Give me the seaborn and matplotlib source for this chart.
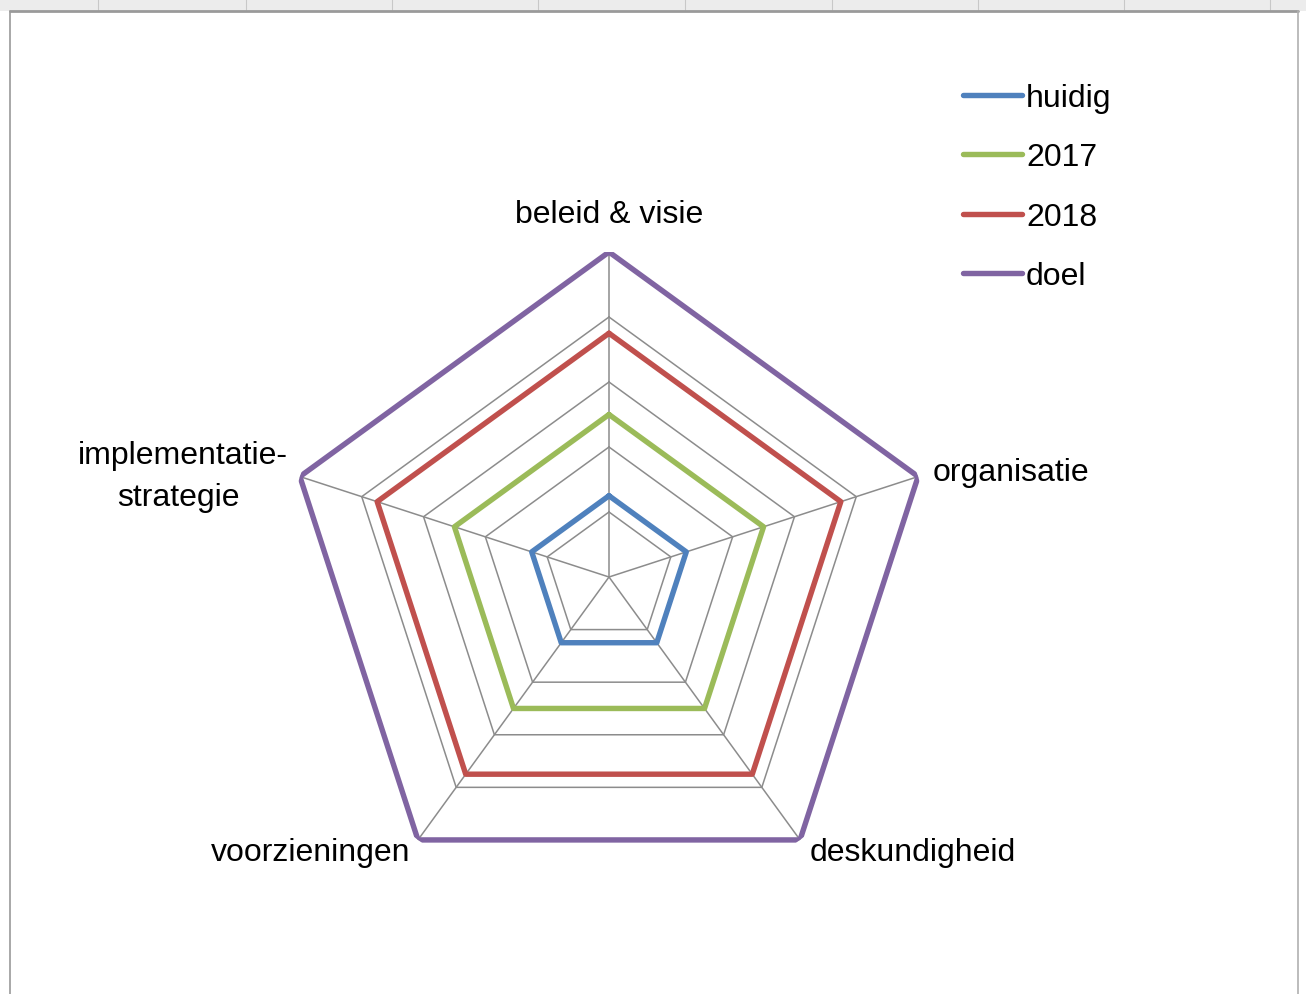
import numpy as np
import pandas as pd
import matplotlib
matplotlib.use("Agg")
import matplotlib.pyplot as plt
import seaborn as sns
from matplotlib.patches import Rectangle
from matplotlib.lines import Line2D

# axes of the radar, clockwise from the top
categories = ['beleid & visie', 'organisatie', 'deskundigheid', 'voorzieningen', 'implementatie-\nstrategie']
series = ['huidig', '2017', '2018', 'doel']
huidig = [0.25, 0.25, 0.25, 0.25, 0.25]
v2017 = [0.50, 0.50, 0.50, 0.50, 0.50]
v2018 = [0.75, 0.75, 0.75, 0.75, 0.75]
doel = [1.00, 1.00, 1.00, 1.00, 1.00]
ring_levels = [0.2, 0.4, 0.6, 0.8, 1.0]

palette = {'huidig': '#4F81BD', '2017': '#9BBB59', '2018': '#C0504D', 'doel': '#8064A2'}

# long form table, polygon closed by repeating the first category
n = len(categories)
theta = np.linspace(0, 2 * np.pi, n, endpoint=False)
rows = []
for name, vals in zip(series, [huidig, v2017, v2018, doel]):
    for i in range(n + 1):
        rows.append({'theta': theta[i % n] + (2 * np.pi if i == n else 0), 'value': vals[i % n], 'series': name})
df = pd.DataFrame(rows)

sns.set_theme(style='white')
plt.rcParams['font.family'] = ['Liberation Sans', 'DejaVu Sans']
plt.rcParams['text.color'] = 'black'

W, H = 1306, 995
fig = plt.figure(figsize=(W / 100, H / 100), dpi=100)

# spreadsheet chrome around the chart area
fig.patches.append(Rectangle((0, 1 - 12 / H), 1, 12 / H, transform=fig.transFigure, facecolor='#ececec', edgecolor='none'))
for xc in [98, 246, 392, 538, 685, 832, 978, 1124, 1270]:
    fig.lines.append(Line2D([xc / W, xc / W], [1 - 12 / H, 1], transform=fig.transFigure, color='#c8c8c8', lw=0.8))
fig.lines.append(Line2D([10 / W, 1298 / W], [1 - 12 / H, 1 - 12 / H], transform=fig.transFigure, color='#9a9a9a', lw=2))
fig.lines.append(Line2D([10 / W, 10 / W], [0, 1 - 12 / H], transform=fig.transFigure, color='#9a9a9a', lw=1.2))
fig.lines.append(Line2D([1298 / W, 1298 / W], [0, 1 - 12 / H], transform=fig.transFigure, color='#b0b0b0', lw=1.2))

cx, cy, R = 609, 578, 325
ax = fig.add_axes([(cx - R) / W, (H - cy - R) / H, 2 * R / W, 2 * R / H], projection='polar')
ax.set_theta_offset(np.pi / 2)
ax.set_theta_direction(-1)
ax.grid(False)
ax.spines['polar'].set_visible(False)
ax.patch.set_alpha(0)

# polygonal grid
closed = np.append(theta, theta[0] + 2 * np.pi)
for r in ring_levels:
    ax.plot(closed, [r] * (n + 1), color='#8c8c8c', lw=1.1, zorder=1)
for t in theta:
    ax.plot([t, t], [0, 1], color='#8c8c8c', lw=1.1, zorder=1)

sns.lineplot(data=df, x='theta', y='value', hue='series', palette=palette,
             estimator=None, sort=False, lw=3.9, ax=ax, zorder=3, legend=False)
ax.set_xlabel('')
ax.set_ylabel('')
ax.set_xticks([])
ax.set_yticks([])
ax.set_ylim(0, 1)

fs = 23
label_pos = [
    (0, 0, 38, 'center'),
    (1, 15, 5, 'left'),
    (2, 10, -12, 'left'),
    (3, -8, -12, 'right'),
]
for i, dx, dy, ha in label_pos:
    ax.annotate(categories[i], xy=(theta[i], 1), xytext=(dx, dy), textcoords='offset pixels',
                ha=ha, va='center', fontsize=fs, color='black')
ax.annotate('implementatie-', xy=(theta[4], 1), xytext=(-12, 22), textcoords='offset pixels',
            ha='right', va='center', fontsize=fs, color='black')
ax.annotate('strategie', xy=(theta[4], 1), xytext=(-121, -20), textcoords='offset pixels',
            ha='center', va='center', fontsize=fs, color='black')

handles = [Line2D([0], [0], color=palette[s], lw=3.9, solid_capstyle='round') for s in series]
leg = fig.legend(handles, series, loc='upper left', bbox_to_anchor=(963 / W, 1 - 84 / H), frameon=False,
                 fontsize=fs, handlelength=1.85, handletextpad=0.12, labelspacing=0.92, borderpad=0, borderaxespad=0)
for t in leg.get_texts():
    t.set_color('black')

fig.savefig('out.png', dpi=100, facecolor='white')
